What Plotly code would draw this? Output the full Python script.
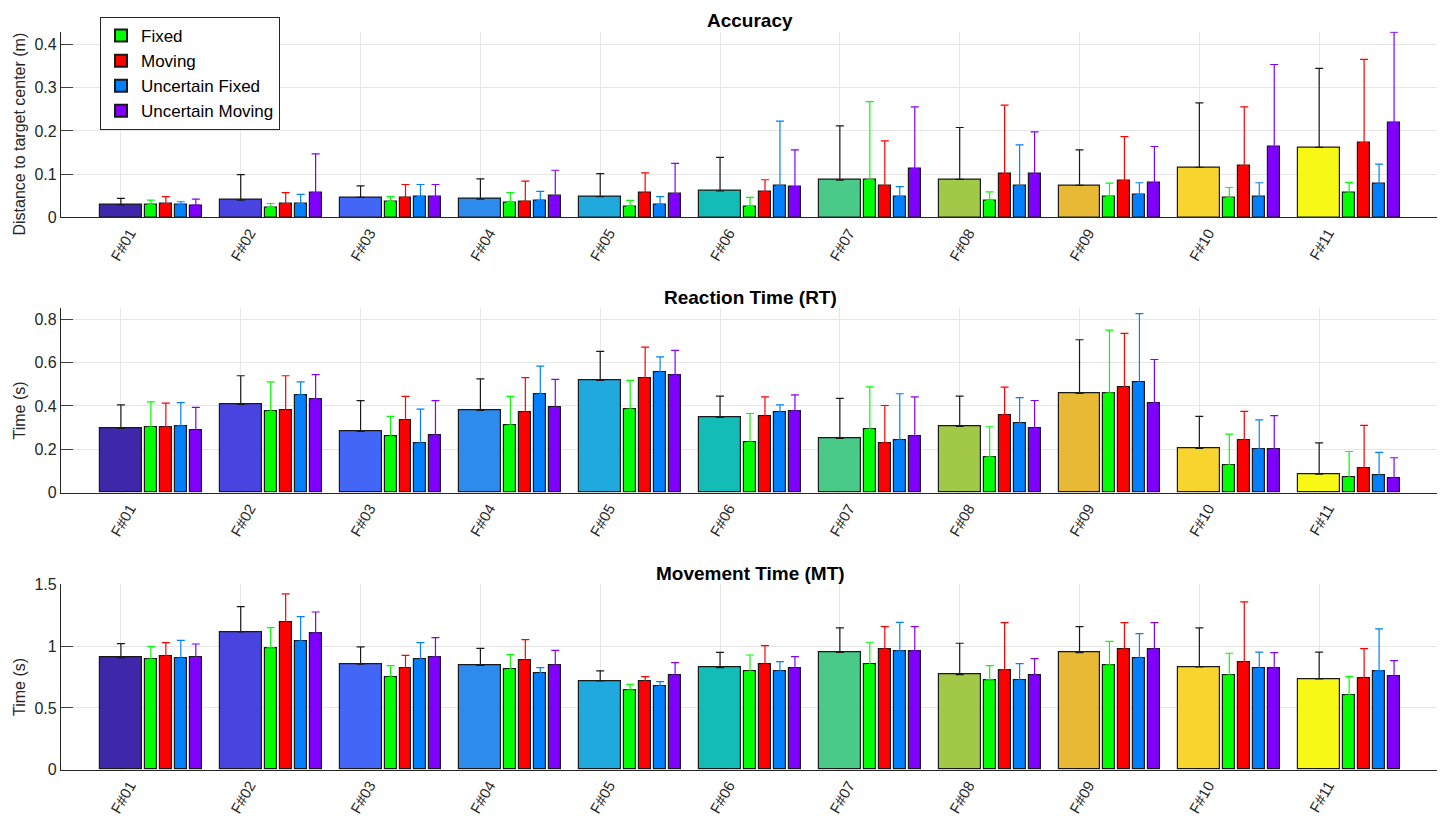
import plotly.graph_objects as go

groups = ["F#01", "F#02", "F#03", "F#04", "F#05", "F#06", "F#07", "F#08", "F#09", "F#10", "F#11"]
conditions = ["Fixed", "Moving", "Uncertain Fixed", "Uncertain Moving"]

# ---------------- Accuracy (m): means and upper error values ----------------
acc_all = [0.029, 0.040, 0.046, 0.042, 0.048, 0.061, 0.086, 0.088, 0.074, 0.116, 0.162]
acc_all_top = [0.044, 0.099, 0.073, 0.089, 0.101, 0.139, 0.212, 0.208, 0.156, 0.265, 0.345]
acc_fixed = [0.029, 0.023, 0.037, 0.034, 0.025, 0.025, 0.087, 0.039, 0.048, 0.045, 0.056]
acc_fixed_top = [0.040, 0.032, 0.048, 0.057, 0.039, 0.046, 0.268, 0.059, 0.079, 0.069, 0.081]
acc_moving = [0.032, 0.032, 0.046, 0.037, 0.056, 0.059, 0.073, 0.100, 0.085, 0.120, 0.173]
acc_moving_top = [0.048, 0.057, 0.076, 0.084, 0.103, 0.087, 0.177, 0.260, 0.187, 0.256, 0.366]
acc_ufixed = [0.029, 0.032, 0.048, 0.039, 0.030, 0.073, 0.048, 0.073, 0.053, 0.047, 0.077]
acc_ufixed_top = [0.036, 0.053, 0.076, 0.060, 0.048, 0.223, 0.071, 0.168, 0.080, 0.080, 0.123]
acc_umoving = [0.028, 0.057, 0.048, 0.050, 0.055, 0.071, 0.113, 0.100, 0.080, 0.163, 0.220]
acc_umoving_top = [0.042, 0.147, 0.076, 0.109, 0.125, 0.156, 0.256, 0.198, 0.164, 0.354, 0.429]

# ---------------- Reaction time (s) ----------------
rt_all = [0.296, 0.407, 0.283, 0.379, 0.518, 0.347, 0.250, 0.306, 0.458, 0.204, 0.086]
rt_all_top = [0.405, 0.539, 0.424, 0.525, 0.651, 0.445, 0.435, 0.445, 0.705, 0.352, 0.230]
rt_fixed = [0.301, 0.375, 0.258, 0.310, 0.384, 0.232, 0.292, 0.164, 0.459, 0.126, 0.069]
rt_fixed_top = [0.419, 0.511, 0.352, 0.444, 0.518, 0.365, 0.488, 0.304, 0.749, 0.270, 0.190]
rt_moving = [0.301, 0.378, 0.333, 0.370, 0.527, 0.350, 0.229, 0.358, 0.485, 0.241, 0.112]
rt_moving_top = [0.413, 0.539, 0.444, 0.530, 0.671, 0.442, 0.402, 0.487, 0.734, 0.375, 0.310]
rt_ufixed = [0.307, 0.450, 0.227, 0.453, 0.554, 0.369, 0.241, 0.319, 0.508, 0.200, 0.078]
rt_ufixed_top = [0.415, 0.511, 0.385, 0.583, 0.626, 0.405, 0.456, 0.438, 0.825, 0.336, 0.186]
rt_umoving = [0.286, 0.431, 0.264, 0.392, 0.542, 0.376, 0.261, 0.296, 0.412, 0.200, 0.066]
rt_umoving_top = [0.393, 0.544, 0.424, 0.522, 0.656, 0.451, 0.442, 0.425, 0.614, 0.355, 0.161]

# ---------------- Movement time (s) ----------------
mt_all = [0.906, 1.114, 0.853, 0.844, 0.718, 0.826, 0.950, 0.769, 0.947, 0.831, 0.734]
mt_all_top = [1.020, 1.319, 0.993, 0.982, 0.799, 0.950, 1.147, 1.023, 1.157, 1.147, 0.952]
mt_fixed = [0.893, 0.985, 0.747, 0.809, 0.645, 0.793, 0.850, 0.726, 0.847, 0.764, 0.602]
mt_fixed_top = [0.995, 1.149, 0.842, 0.931, 0.691, 0.928, 1.031, 0.842, 1.039, 0.942, 0.753]
mt_moving = [0.917, 1.192, 0.820, 0.885, 0.712, 0.853, 0.974, 0.807, 0.974, 0.866, 0.737]
mt_moving_top = [1.028, 1.422, 0.925, 1.052, 0.753, 1.004, 1.157, 1.190, 1.190, 1.357, 0.979]
mt_ufixed = [0.901, 1.039, 0.890, 0.777, 0.674, 0.796, 0.960, 0.723, 0.901, 0.818, 0.799]
mt_ufixed_top = [1.047, 1.238, 1.028, 0.826, 0.712, 0.874, 1.192, 0.858, 1.101, 0.952, 1.139]
mt_umoving = [0.906, 1.106, 0.912, 0.844, 0.764, 0.820, 0.960, 0.764, 0.974, 0.823, 0.755]
mt_umoving_top = [1.017, 1.276, 1.068, 0.966, 0.866, 0.915, 1.157, 0.898, 1.190, 0.947, 0.882]

group_colors = ["#3E27A8", "#4944E0", "#4466F7", "#2E8BEE", "#1FA9DC", "#14BCB7",
                "#49CA88", "#A1C846", "#E8B935", "#F8D42F", "#F8F817"]
cond_colors = ["#00FF00", "#FF0000", "#0080FF", "#8000FF"]

panels = [
    dict(title="Accuracy", ylabel="Distance to target center (m)", yrange=[0, 0.43],
         ticks=[0, 0.1, 0.2, 0.3, 0.4], all=(acc_all, acc_all_top),
         conds=[(acc_fixed, acc_fixed_top), (acc_moving, acc_moving_top),
                (acc_ufixed, acc_ufixed_top), (acc_umoving, acc_umoving_top)]),
    dict(title="Reaction Time (RT)", ylabel="Time (s)", yrange=[0, 0.85],
         ticks=[0, 0.2, 0.4, 0.6, 0.8], all=(rt_all, rt_all_top),
         conds=[(rt_fixed, rt_fixed_top), (rt_moving, rt_moving_top),
                (rt_ufixed, rt_ufixed_top), (rt_umoving, rt_umoving_top)]),
    dict(title="Movement Time (MT)", ylabel="Time (s)", yrange=[0, 1.5],
         ticks=[0, 0.5, 1, 1.5], all=(mt_all, mt_all_top),
         conds=[(mt_fixed, mt_fixed_top), (mt_moving, mt_moving_top),
                (mt_ufixed, mt_ufixed_top), (mt_umoving, mt_umoving_top)]),
]

# the page body adds an 8px margin; the figure is sized to fill the rest
OFF = 8
W, H = 1445 - OFF, 816 - OFF
# pixel geometry of each panel (top, bottom) in the page
panel_px = [(31.7, 217.3), (308.3, 492.7), (584.3, 769.7)]
x_px = (61, 1439)

def fx(px):
    return (px - OFF) / W

def fy(py):
    return 1 - (py - OFF) / H

WIDE_W = 0.35
NARROW_W = 0.1
cond_offsets = [0.25, 0.375, 0.5, 0.625]

font_family = "Liberation Sans, Arial, Helvetica, sans-serif"
fig = go.Figure()
xpos = list(range(1, len(groups) + 1))

for p, panel in enumerate(panels):
    xa = "x" if p == 0 else f"x{p+1}"
    ya = "y" if p == 0 else f"y{p+1}"
    means, tops = panel["all"]
    fig.add_trace(go.Bar(
        x=xpos, y=means, width=WIDE_W, xaxis=xa, yaxis=ya,
        marker=dict(color=group_colors, line=dict(color="#1a1a1a", width=1.2)),
        error_y=dict(type="data", symmetric=False,
                     array=[t - m for t, m in zip(tops, means)],
                     arrayminus=[0] * len(means), color="#1a1a1a", thickness=1.2, width=4),
        showlegend=False, hoverinfo="skip"))
    for c, (cm, ct) in enumerate(panel["conds"]):
        fig.add_trace(go.Bar(
            x=[v + cond_offsets[c] for v in xpos], y=cm, width=NARROW_W,
            xaxis=xa, yaxis=ya, name=conditions[c], legendgroup=conditions[c],
            marker=dict(color=cond_colors[c], line=dict(color="#1a1a1a", width=1.2)),
            error_y=dict(type="data", symmetric=False,
                         array=[t - m for t, m in zip(ct, cm)],
                         arrayminus=[0] * len(cm), color=cond_colors[c], thickness=1.2, width=4),
            showlegend=(p == 0), hoverinfo="skip"))

layout = dict(
    width=W, height=H, margin=dict(l=0, r=0, t=0, b=0),
    paper_bgcolor="white", plot_bgcolor="white",
    barmode="overlay", bargap=0,
    font=dict(family=font_family, color="#262626", size=15),
    legend=dict(x=fx(100), y=fy(17), xanchor="left", yanchor="top",
                bgcolor="white", bordercolor="#262626", borderwidth=1,
                font=dict(size=17, color="#000000"), tracegroupgap=0,
                itemsizing="constant"),
    annotations=[],
)

for p, panel in enumerate(panels):
    top, bot = panel_px[p]
    xkey = "xaxis" if p == 0 else f"xaxis{p+1}"
    ykey = "yaxis" if p == 0 else f"yaxis{p+1}"
    ya = "y" if p == 0 else f"y{p+1}"
    layout[xkey] = dict(
        domain=[fx(x_px[0]), fx(x_px[1])], anchor=ya, range=[0.5, 12.0],
        tickvals=xpos, ticktext=groups, tickangle=-60,
        showgrid=True, gridcolor="#E6E6E6", gridwidth=1,
        showline=True, linecolor="#262626", linewidth=1.2,
        ticks="", zeroline=False, automargin=False,
        ticklabelshift=9,
        tickfont=dict(size=15, color="#262626"))
    layout[ykey] = dict(
        domain=[fy(bot), fy(top)], anchor="x" if p == 0 else f"x{p+1}",
        range=panel["yrange"], tickvals=panel["ticks"],
        showgrid=True, gridcolor="#E6E6E6", gridwidth=1,
        showline=True, linecolor="#262626", linewidth=1.2,
        ticks="inside", ticklen=12, tickcolor="#404040",
        zeroline=False, automargin=False,
        tickfont=dict(size=16, color="#262626"))
    layout["annotations"].append(dict(
        text=f"<b>{panel['title']}</b>", x=fx((x_px[0] + x_px[1]) / 2), y=fy(top - 11),
        xref="paper", yref="paper", xanchor="center", yanchor="middle",
        showarrow=False, font=dict(size=19, color="#000000")))
    layout["annotations"].append(dict(
        text=panel["ylabel"], x=fx(19), y=fy((top + bot) / 2 + 10),
        xref="paper", yref="paper", xanchor="center", yanchor="middle",
        textangle=-90, showarrow=False, font=dict(size=16, color="#262626")))

fig.update_layout(**layout)
fig.write_html("out.html")
